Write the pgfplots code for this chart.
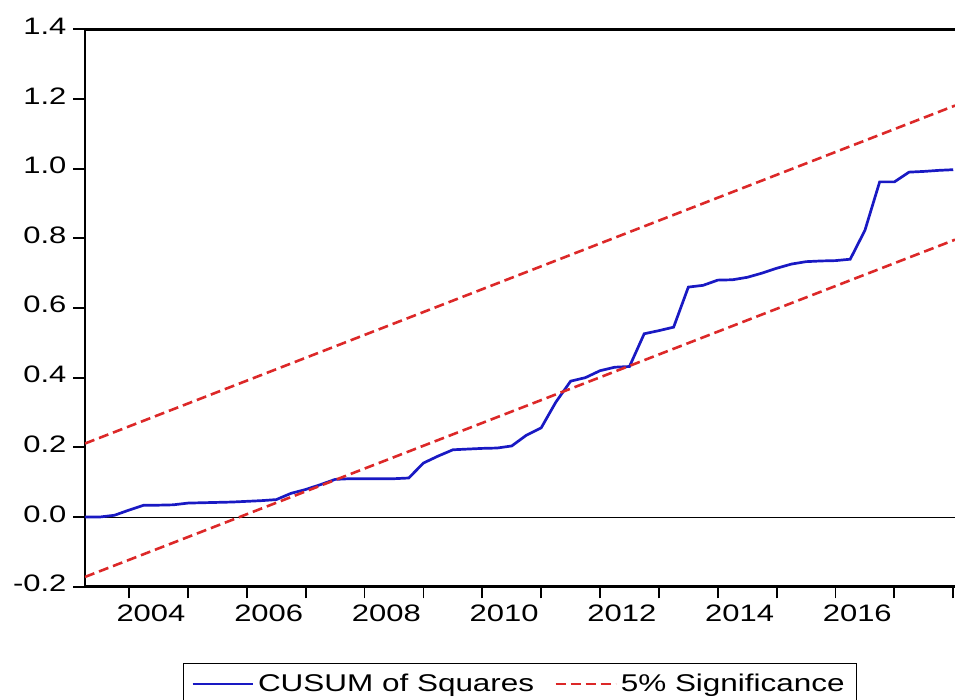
\documentclass[border=0pt]{standalone}
\usepackage{fontspec}
\setmainfont{Liberation Sans}[FakeStretch=1.3]
\usepackage{pgfplots}
\pgfplotsset{compat=1.18}

\definecolor{cusumblue}{RGB}{25,25,195}
\definecolor{sigred}{RGB}{220,40,40}

\begin{document}
\begin{tikzpicture}
% page = 955x700 px, 1 px = 0.5pt, axis box from (85,29) to (955,587)
\useasboundingbox (-42.5pt,-56.65pt) rectangle (435pt,293.35pt);
\begin{axis}[
    at={(0,0)}, anchor=south west,
    scale only axis,
    width=435pt, height=278.7pt,
    xmin=2003.25, xmax=2018.03,
    ymin=-0.2, ymax=1.4,
    axis x line*=box, axis y line*=left,
    xtick pos=bottom, ytick pos=left,
    axis line style={line width=1.25pt},
    tick style={line width=0.9pt, black},
    tick align=outside,
    xtick={2004,2005,...,2018},
    xticklabels={2004,,2006,,2008,,2010,,2012,,2014,,2016,,},
    x tick label style={xshift=10.9pt},
    major tick length=5.8pt,
    ytick={-0.2,0,0.2,0.4,0.6,0.8,1.0,1.2,1.4},
    yticklabels={-0.2,0.0,0.2,0.4,0.6,0.8,1.0,1.2,1.4},
    y tick label style={yshift=1.6pt},
    tick label style={font=\fontsize{11.9}{14}\selectfont},
    legend style={at={(0.5,-0.137)}, anchor=north, legend columns=2,
        draw=black, line width=0.7pt,
        font=\fontsize{12.1}{14}\selectfont,
        inner xsep=4pt, inner ysep=3pt,
        /tikz/every even column/.append style={column sep=8pt}},
    legend image code/.code={\draw[#1] (0pt,0pt) -- (30pt,0pt);},
]
\addplot[black, line width=0.5pt, forget plot] coordinates {(2003.25,0) (2018.03,0)};

\addplot[cusumblue, line width=1.35pt] coordinates {
(2003.25,0) (2003.5,0) (2003.75,0.005) (2004.0,0.020)
(2004.25,0.034) (2004.5,0.034) (2004.75,0.035) (2005.0,0.040)
(2005.25,0.041) (2005.5,0.042) (2005.75,0.043) (2006.0,0.045)
(2006.25,0.047) (2006.5,0.050) (2006.75,0.068) (2007.0,0.079)
(2007.25,0.093) (2007.5,0.108) (2007.75,0.110) (2008.0,0.110)
(2008.25,0.110) (2008.5,0.110) (2008.75,0.112) (2009.0,0.155)
(2009.25,0.175) (2009.5,0.193) (2009.75,0.195) (2010.0,0.197)
(2010.25,0.198) (2010.5,0.204) (2010.75,0.235) (2011.0,0.256)
(2011.25,0.330) (2011.5,0.390) (2011.75,0.400) (2012.0,0.420)
(2012.25,0.430) (2012.5,0.432) (2012.75,0.526) (2013.0,0.535)
(2013.25,0.545) (2013.5,0.660) (2013.75,0.665) (2014.0,0.680)
(2014.25,0.681) (2014.5,0.688) (2014.75,0.700) (2015.0,0.714)
(2015.25,0.726) (2015.5,0.733) (2015.75,0.735) (2016.0,0.736)
(2016.25,0.740) (2016.5,0.823) (2016.75,0.962) (2017.0,0.962)
(2017.25,0.990) (2017.5,0.992) (2017.75,0.995) (2018.0,0.997)
};
\addlegendentry{CUSUM of Squares}

\addplot[sigred, line width=1.3pt, dash pattern=on 5pt off 2.5pt] coordinates {(2003.25,0.211) (2018.03,1.181)};
\addlegendentry{5\% Significance}
\addplot[sigred, line width=1.3pt, dash pattern=on 5pt off 2.5pt, forget plot] coordinates {(2003.25,-0.172) (2018.03,0.796)};
\end{axis}
\end{tikzpicture}
\end{document}
